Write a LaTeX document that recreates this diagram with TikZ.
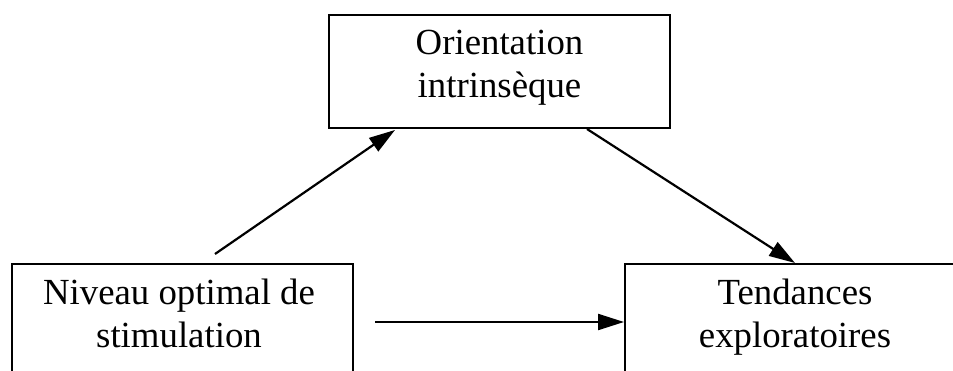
\documentclass[tikz,border=0pt]{standalone}
\usepackage{fontspec}
\setmainfont{Liberation Serif}
\usetikzlibrary{arrows.meta}
\begin{document}
\begin{tikzpicture}[x=1pt,y=-1pt,
  box/.style={draw=black, line width=2.2pt, inner sep=0pt, outer sep=0pt, rectangle, anchor=north west},
  lbl/.style={inner sep=0pt, anchor=base, font=\fontsize{36.8pt}{43pt}\selectfont},
  conn/.style={line width=2.2pt, -{Triangle[length=26pt,width=16pt]}}]
\useasboundingbox (0,0) rectangle (953,371);
\clip (0,0) rectangle (953,371);
\fill[white] (0,0) rectangle (953,371);
% boxes
\node[box, minimum width=341pt, minimum height=113pt] (top) at (329,15) {};
\node[box, minimum width=341pt, minimum height=140pt] (left) at (12,264) {};
\node[box, minimum width=340pt, minimum height=140pt] (right) at (625,264) {};
% texts
\node[lbl] (toptext) at (499.5,55) {\begin{tabular}[t]{@{}c@{}}Orientation\\intrinsèque\end{tabular}};
\node[lbl] (lefttext) at (179,305) {\begin{tabular}[t]{@{}c@{}}Niveau optimal de\\stimulation\end{tabular}};
\node[lbl] (righttext) at (795,305) {\begin{tabular}[t]{@{}c@{}}Tendances\\exploratoires\end{tabular}};
% connectors
\coordinate (a1s) at (215,254);
\coordinate (a3s) at (375,322);
\draw[conn] (a1s) -- ([xshift=66pt,yshift=-2pt]top.south west);
\draw[conn] ([xshift=87.5pt,yshift=-1pt]top.south) -- ([xshift=170pt,yshift=1pt]right.north west);
\draw[conn] (a3s) -- ([xshift=-1pt,yshift=-58pt]right.north west);
\end{tikzpicture}
\end{document}
